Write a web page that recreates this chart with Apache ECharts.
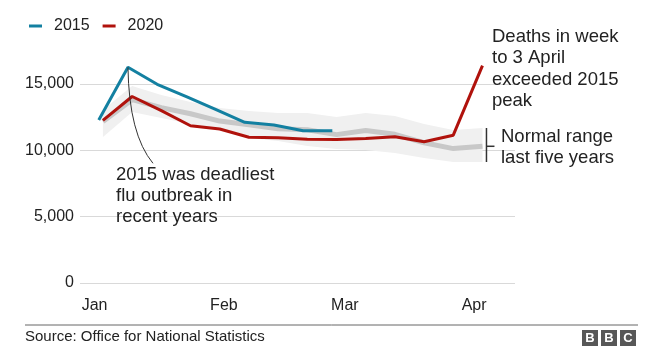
<!DOCTYPE html>
<html>
<head>
<meta charset="utf-8">
<script src="https://cdn.jsdelivr.net/npm/echarts@6/dist/echarts.min.js"></script>
<style>
html,body{margin:0;padding:0;background:#fff;}
#chart{width:656px;height:354px;}
</style>
</head>
<body>
<div id="chart"></div>
<script>
// Week-ending dates
var weeks2020 = ['2020-01-03','2020-01-10','2020-01-17','2020-01-24','2020-01-31','2020-02-07','2020-02-14','2020-02-21','2020-02-28','2020-03-06','2020-03-13','2020-03-20','2020-03-27','2020-04-03'];
var weeks2015 = ['2015-01-02','2015-01-09','2015-01-16','2015-01-23','2015-01-30','2015-02-06','2015-02-13','2015-02-20','2015-02-27'];
// Weekly deaths
var deaths2020 = [12254,14058,12990,11856,11612,10986,10944,10841,10816,10895,11019,10645,11141,16387];
var deaths2015 = [12290,16260,14980,14040,13090,12110,11910,11480,11480];
var avg5yr = [12175,13822,13216,12760,12206,11925,11627,11548,11183,11498,11205,10573,10130,10305];
var rangeLow = [11005,12889,12437,11985,11532,10929,10703,10326,10100,10025,9799,9422,9120,9120];
var rangeHigh = [13040,14849,14170,13643,13190,12964,12813,12813,12512,12813,12587,11985,11532,11683];
var monthLabels = ['Jan','Feb','Mar','Apr'];
var monthStarts = ['2020-01-01','2020-02-01','2020-03-01','2020-04-01'];

function dayOfYear(s){
  var d = new Date(s + 'T00:00:00Z');
  var start = Date.UTC(d.getUTCFullYear(),0,1);
  return Math.round((d.getTime()-start)/86400000);
}
function pairs(dates, vals){ return dates.map(function(d,i){ return [dayOfYear(d), vals[i]]; }); }

var monthDays = monthStarts.map(dayOfYear);
var days2020 = weeks2020.map(dayOfYear);
var FONT = '"Liberation Sans", Arial, Helvetica, sans-serif';
var chart = echarts.init(document.getElementById('chart'), null, {renderer:'canvas'});

var bandData = days2020.map(function(d,i){ return [d, rangeLow[i], rangeHigh[i]]; });

var option = {
  animation: false,
  backgroundColor: '#ffffff',
  textStyle: {fontFamily: FONT},
  grid: {left: 80, right: 141, top: 84, bottom: 71, containLabel: false},
  legend: {
    left: 24, top: 13, icon: 'rect', itemWidth: 13, itemHeight: 3, itemGap: 13,
    data: ['2015','2020'],
    textStyle: {fontSize: 16, color: '#222', fontFamily: FONT, padding: [0,0,0,7]}
  },
  xAxis: {
    type: 'value', min: -3.5, max: 100.8,
    axisLine: {show: false}, axisTick: {show: false}, splitLine: {show: false},
    axisLabel: {
      customValues: monthDays, fontSize: 16, color: '#222', margin: 15, fontFamily: FONT,
      formatter: function(v){ var i = monthDays.indexOf(v); return i >= 0 ? monthLabels[i] : ''; }
    }
  },
  yAxis: {
    type: 'value', min: 0, max: 15000, interval: 5000,
    axisLine: {show: false}, axisTick: {show: false},
    splitLine: {lineStyle: {color: '#d9d9d9', width: 1}},
    axisLabel: {fontSize: 16, color: '#222', margin: 6, fontFamily: FONT,
      formatter: function(v){ return v.toString().replace(/\B(?=(\d{3})+(?!\d))/g, ','); }}
  },
  series: [
    {name: 'range', type: 'custom', clip: false, silent: true, z: 1,
     encode: {x: 0, y: [1, 2]},
     data: bandData,
     renderItem: function(params, api){
       if (params.dataIndex !== 0) return null;
       var top = [], bot = [];
       for (var i = 0; i < bandData.length; i++){
         top.push(api.coord([bandData[i][0], bandData[i][2]]));
         bot.push(api.coord([bandData[i][0], bandData[i][1]]));
       }
       return {type: 'polygon', shape: {points: top.concat(bot.reverse())}, style: {fill: '#f0f0f0'}};
     }},
    {name: 'avg', type: 'line', symbol: 'none', clip: false, silent: true,
     lineStyle: {color: '#c8c8c8', width: 5}, data: pairs(weeks2020, avg5yr), z: 2},
    {name: '2015', type: 'line', symbol: 'none', clip: false, color: '#1380a1',
     lineStyle: {color: '#1380a1', width: 3}, data: pairs(weeks2015, deaths2015), z: 3},
    {name: '2020', type: 'line', symbol: 'none', clip: false, color: '#b0120c',
     lineStyle: {color: '#b0120c', width: 3}, data: pairs(weeks2020, deaths2020), z: 4}
  ]
};
chart.setOption(option);

// Annotations anchored to data positions
var peakIdx = deaths2015.indexOf(Math.max.apply(null, deaths2015));
var peakPx = chart.convertToPixel({gridIndex: 0}, [dayOfYear(weeks2015[peakIdx]), deaths2015[peakIdx]]);
var last = weeks2020.length - 1;
var bTop = chart.convertToPixel({gridIndex: 0}, [days2020[last], rangeHigh[last]]);
var bBot = chart.convertToPixel({gridIndex: 0}, [days2020[last], rangeLow[last]]);
var bMid = chart.convertToPixel({gridIndex: 0}, [days2020[last], avg5yr[last]]);
var bx = bTop[0] + 4;

chart.setOption({
  graphic: [
    {type: 'bezierCurve', silent: true, z: 10,
     shape: {x1: peakPx[0], y1: peakPx[1], cpx1: peakPx[0] + 1, cpy1: peakPx[1] + 67, x2: peakPx[0] + 25, y2: peakPx[1] + 96},
     style: {stroke: '#333', lineWidth: 1, fill: null}},
    {type: 'polyline', silent: true, z: 10,
     shape: {points: [[bx, bTop[1]], [bx, bBot[1]]]}, style: {stroke: '#333', lineWidth: 1.5, fill: null}},
    {type: 'polyline', silent: true, z: 10,
     shape: {points: [[bx, bMid[1]], [bx + 8, bMid[1]]]}, style: {stroke: '#333', lineWidth: 1.5, fill: null}},
    {type: 'text', left: 492, top: 26, silent: true, z: 10,
     style: {text: 'Deaths in week\nto 3 April\nexceeded 2015\npeak', fontSize: 18.5, lineHeight: 21.5, fill: '#222', fontFamily: FONT}},
    {type: 'text', left: 116, top: 164, silent: true, z: 10,
     style: {text: '2015 was deadliest\nflu outbreak in\nrecent years', fontSize: 18.5, lineHeight: 21, fill: '#222', fontFamily: FONT}},
    {type: 'text', left: 501, top: 127, silent: true, z: 10,
     style: {text: 'Normal range\nlast five years', fontSize: 18.5, lineHeight: 20.5, fill: '#222', fontFamily: FONT}},
    {type: 'line', silent: true, shape: {x1: 25, y1: 325, x2: 638, y2: 325}, style: {stroke: '#666', lineWidth: 1}},
    {type: 'text', left: 25, top: 329, silent: true,
     style: {text: 'Source: Office for National Statistics', fontSize: 15, fill: '#222', fontFamily: FONT}},
    {type: 'group', left: 582, top: 330, silent: true, children: [
      {type: 'rect', shape: {x: 0, y: 0, width: 16, height: 16}, style: {fill: '#575757'}},
      {type: 'rect', shape: {x: 19, y: 0, width: 16, height: 16}, style: {fill: '#575757'}},
      {type: 'rect', shape: {x: 38, y: 0, width: 16, height: 16}, style: {fill: '#575757'}},
      {type: 'text', x: 8, y: 8.5, style: {text: 'B', fill: '#fff', fontSize: 13, fontWeight: 'bold', align: 'center', verticalAlign: 'middle', fontFamily: FONT}},
      {type: 'text', x: 27, y: 8.5, style: {text: 'B', fill: '#fff', fontSize: 13, fontWeight: 'bold', align: 'center', verticalAlign: 'middle', fontFamily: FONT}},
      {type: 'text', x: 46, y: 8.5, style: {text: 'C', fill: '#fff', fontSize: 13, fontWeight: 'bold', align: 'center', verticalAlign: 'middle', fontFamily: FONT}}
    ]}
  ]
});
</script>
</body>
</html>
